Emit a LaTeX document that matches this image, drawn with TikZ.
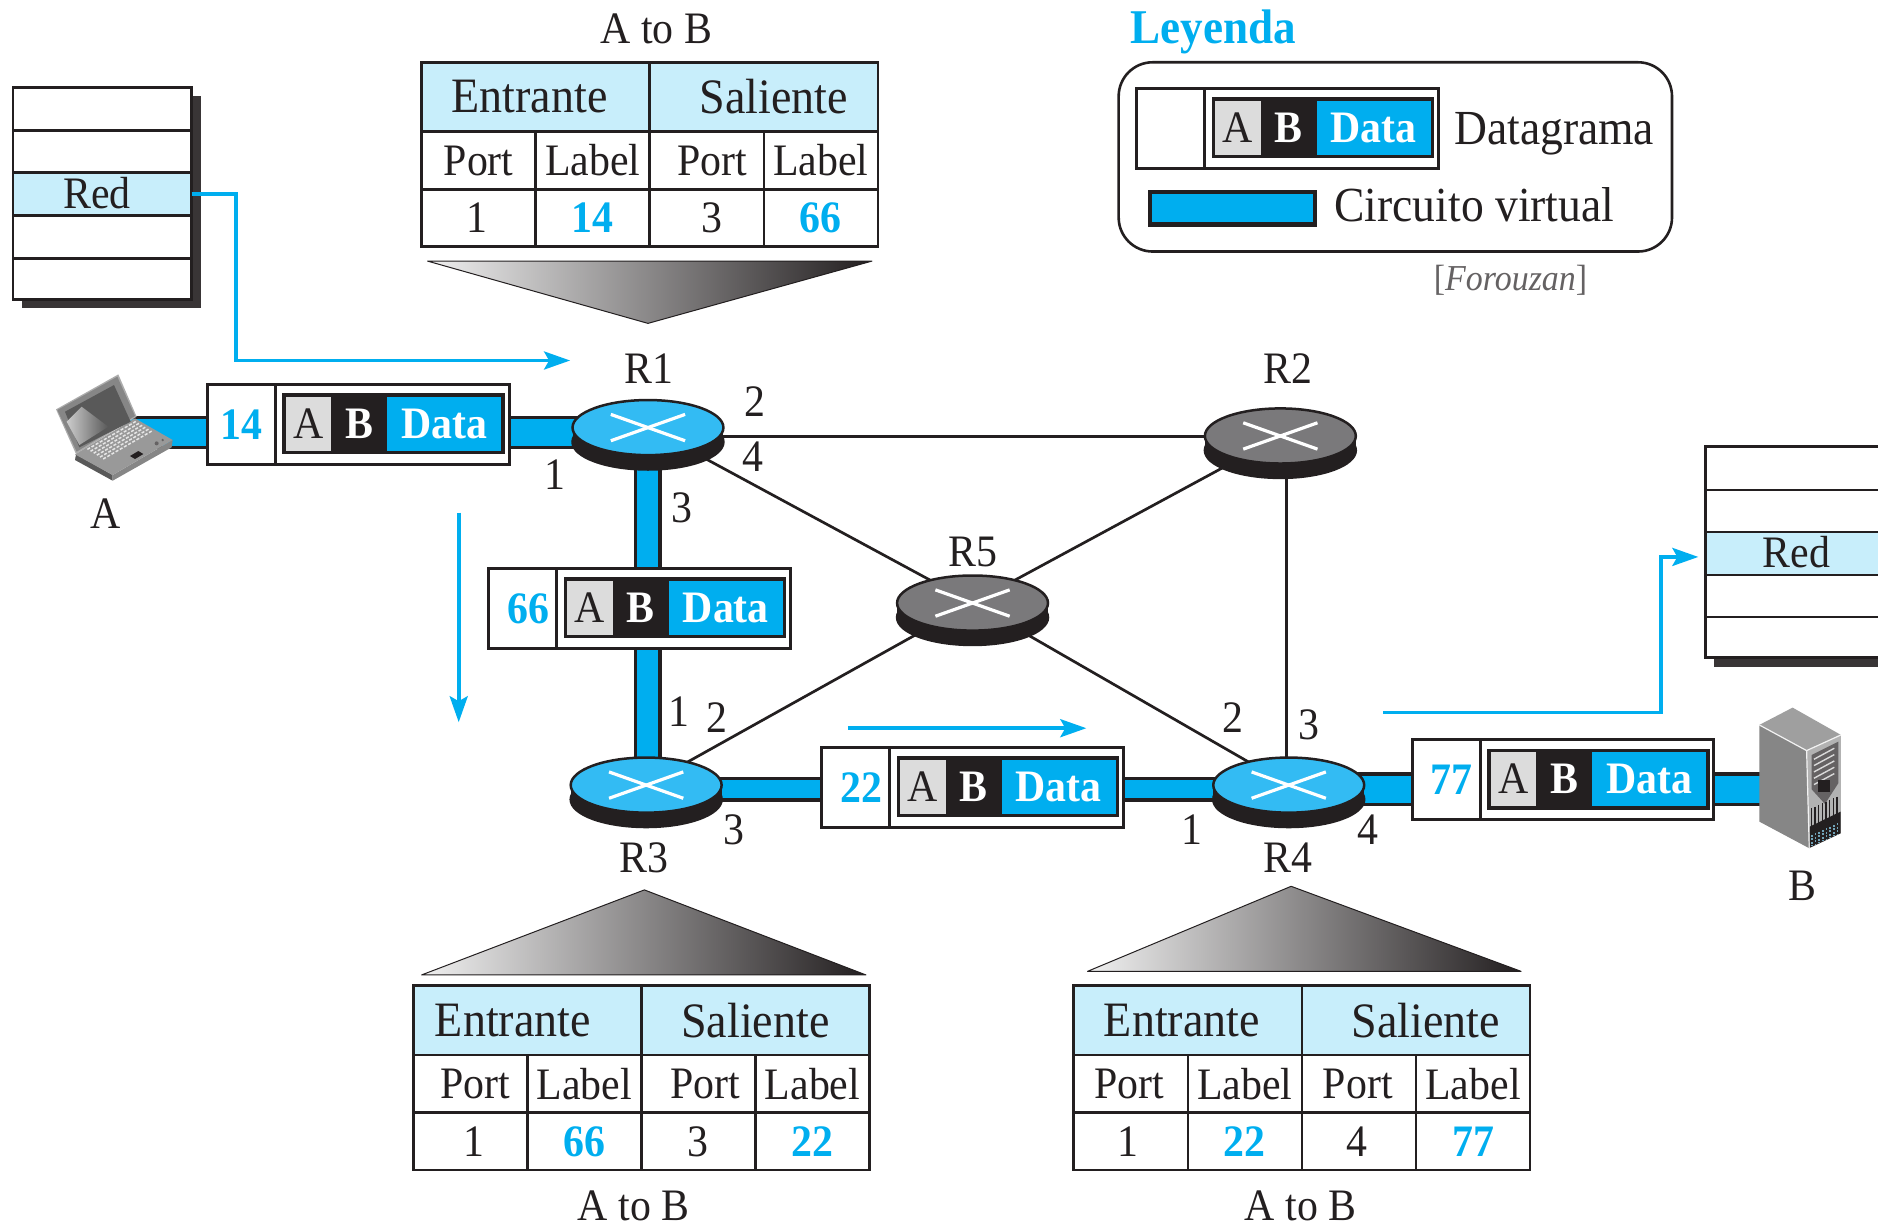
\documentclass[tikz,border=0pt]{standalone}
\usepackage{fontspec}
\setmainfont[FakeStretch=0.93]{Liberation Serif}
\usetikzlibrary{shapes.geometric,arrows.meta,shadings}
\definecolor{cy}{HTML}{00AEEF}
\definecolor{cyr}{HTML}{33BBF3}
\definecolor{grr}{HTML}{7A797B}
\definecolor{ink}{HTML}{231F20}
\definecolor{hd}{HTML}{C8EEFB}
\definecolor{gc}{HTML}{DCDCDC}
\newlength{\uu}\setlength{\uu}{1.1977pt}
\tikzset{
 fs/.style={font=\fontsize{#1}{#1}\selectfont},
 txt/.style={fs=45,inner sep=0pt,text=ink},
 boxc/.style={draw=ink,line width=3pt,inner sep=0pt,outer sep=0pt,anchor=north west,minimum width=#1*\uu},
 tcell/.style={boxc=#1,line width=2.6pt,minimum height=48*\uu},
 band/.style={draw=ink,line width=3.5pt,double=cy,double distance=#1},
 thinl/.style={draw=ink,line width=2.7pt},
 flow/.style={draw=cy,line width=3.6pt,-{Stealth[length=26pt,width=18pt,inset=5pt]}},
 rtop/.style={ellipse,draw=ink,line width=2.5pt,inner sep=0pt,outer sep=0pt,minimum width=126*\uu,minimum height=46*\uu},
 xl/.style={draw=white,line width=3.2pt},
 blue/.style={font=\fontsize{45}{45}\selectfont\bfseries,text=cy},
 tri/.style={draw=ink,line width=1pt,line join=round,left color=gray!12,right color=ink},
}
% router: name, x, y, colour
\newcommand{\router}[4]{%
 \fill[ink] (#2-63,#3) rectangle (#2+63,#3+12);
 \node[rtop,fill=ink] (#1b) at (#2,#3+12) {};
 \node[rtop,fill=#4] (#1) at (#2,#3) {};
 \draw[xl] ([shift={(-31,-11)}]#1.center) -- ([shift={(31,11)}]#1.center);
 \draw[xl] ([shift={(-31,11)}]#1.center) -- ([shift={(31,-11)}]#1.center);
}
% packet: name, left, top, label
\newcommand{\packet}[4]{%
 \begin{scope}[shift={(#2,#3)}]
 \node[boxc=195,minimum height=67*\uu,fill=white] (#1body) at (57,0) {};
 \node[boxc=57,minimum height=67*\uu,fill=white,font=\fontsize{45}{45}\selectfont\bfseries,text=cy] (#1lab) at (0,0) {#4};
 \node[boxc=41,minimum height=48*\uu,fill=gc,line width=3.5pt,fs=45,text=ink] (#1a) at (64,9) {A};
 \node[boxc=44,minimum height=48*\uu,fill=ink,line width=3.5pt,font=\fontsize{45}{45}\selectfont\bfseries,text=white] (#1b) at (105,9) {B};
 \node[boxc=98,minimum height=48*\uu,fill=cy,line width=3.5pt,draw=ink,font=\fontsize{45}{45}\selectfont\bfseries,text=white] (#1d) at (149,9) {Data};
 \end{scope}
}
% table: name,left,top,ent shift,sal shift,v1,v2,v3,v4 ; \oa..\od text offsets (twice the shift)
\newcommand{\rtable}[9]{%
 \begin{scope}[shift={(#2,#3)}]
 \node[boxc=190.5,line width=2.6pt,minimum height=58*\uu,fill=hd] (#1e) at (0,0) {};
 \node[boxc=190.5,line width=2.6pt,minimum height=58*\uu,fill=hd] (#1s) at (190.5,0) {};
 \node[txt,fs=49.5,xshift=#4*\uu] (#1et) at (#1e.center) {Entrante};
 \node[txt,fs=49.5,xshift=#5*\uu] (#1st) at (#1s.center) {Saliente};
 \node[tcell=95.25,txt] (#1p1) at (0,58) {\hspace*{\oa\uu}Port};
 \node[tcell=95.25,txt] (#1l1) at (95.25,58) {Label};
 \node[tcell=95.25,txt] (#1p2) at (190.5,58) {\hspace*{\ob\uu}Port};
 \node[tcell=95.25,txt] (#1l2) at (285.75,58) {Label};
 \node[tcell=95.25,txt] (#1v1) at (0,106) {\hspace*{\oc\uu}#6};
 \node[tcell=95.25,blue] (#1v2) at (95.25,106) {#7};
 \node[tcell=95.25,txt] (#1v3) at (190.5,106) {\hspace*{\od\uu}#8};
 \node[tcell=95.25,blue] (#1v4) at (285.75,106) {#9};
 \end{scope}
}
\begin{document}
\begin{tikzpicture}[x=1.1977pt,y=-1.1977pt]
\useasboundingbox (0,0) rectangle (1568,1022);
% anchors of the bands
\coordinate (LapEnd) at (105,361);
\coordinate (SrvEnd) at (1475,659);
\coordinate (MidBand) at (800,659);
\coordinate (R1c) at (541,357);
\coordinate (R2c) at (1069,364.5);
\coordinate (R3c) at (539.5,655.5);
\coordinate (R4c) at (1076,655.5);
\coordinate (R5c) at (812,503.5);
% thin links
\draw[thinl] (R1c |- R2c) -- (R2c);
\draw[thinl] (R1c) -- (R5c);
\draw[thinl] (R5c) -- (R2c);
\draw[thinl] (R5c) -- (R4c);
\draw[thinl] (R3c) -- (R5c);
\draw[thinl] ([xshift=-2]R4c) -- ([xshift=-2]R4c |- R2c);
% thick links
\draw[band=26.5pt] (LapEnd) -- (LapEnd -| R1c);
\draw[band=21pt] (R1c) -- (R1c |- R3c);
\draw[band=18pt] (R3c |- MidBand) -- (R4c |- MidBand);
\draw[band=27pt] (R4c |- SrvEnd) -- (SrvEnd);
% routers
\router{R1}{541}{357}{cyr}
\router{R2}{1069}{364}{grr}
\router{R5}{812}{503.5}{grr}
\router{R3}{539.5}{655.5}{cyr}
\router{R4}{1076}{655.5}{cyr}
% packets
\packet{Pa}{173}{321}{14}
\packet{Pb}{408}{474.5}{\hspace*{9\uu}66}
\packet{Pc}{686}{624}{\hspace*{9\uu}22}
\packet{Pd}{1179}{617.5}{\hspace*{9\uu}77}
\packet{Pe}{949}{73.5}{}
% tables
\def\oa{0}\def\ob{9}\def\oc{-2}\def\od{8}
\rtable{Ta}{352}{52}{-5}{8.5}{1}{14}{3}{66}
\def\oa{8}\def\ob{12}\def\oc{6}\def\od{0}
\rtable{Tb}{345}{823}{-12}{0}{1}{66}{3}{22}
\def\oa{-2}\def\ob{-2}\def\oc{-4}\def\od{-4}
\rtable{Tc}{896.5}{823}{-5}{8}{1}{22}{4}{77}
\shadedraw[tri] (357,218) -- (728,218) -- (541,270) -- cycle;
\shadedraw[tri] (352,814) -- (723,814) -- (538,743) -- cycle;
\shadedraw[tri] (908,811) -- (1270,811) -- (1078,740) -- cycle;
\node[txt] (ab1) at (548,24) {A to B};
\node[txt] (ab2) at (529,1006.5) {A to B};
\node[txt] (ab3) at (1086,1006.5) {A to B};
% left stack
\fill[ink!90] (18,80) rectangle (168,257);
\foreach \n/\t/\h/\f in {a/73/36/white,b/109/35/white,c/144/36/hd,d/180/36/white,e/216/34/white}
 \node[boxc=149,line width=2.5pt,minimum height=\h*\uu,fill=\f] (LS\n) at (11,\t) {};
\node[txt] (LSt) at (81,161) {Red};
% right stack
\fill[ink!90] (1431,380) rectangle (1570,557);
\foreach \n/\t/\h/\f in {a/373/36/white,b/409/35/white,c/444/36/hd,d/480/35/white,e/515/34/white}
 \node[boxc=147,line width=2.5pt,minimum height=\h*\uu,fill=\f] (RS\n) at (1424,\t) {};
\node[txt] (RSt) at (1500,461) {Red};
% flow arrows
\coordinate (f1) at (476,301);
\coordinate (f2a) at (383,428);
\coordinate (f2b) at (383,603);
\coordinate (f3a) at (708,608);
\coordinate (f3b) at (907,608);
\coordinate (f4a) at (1155,595);
\coordinate (f4b) at (1418,465);
\draw[flow] (LSc.east) -- (197,162) -- (197,301) -- (f1);
\draw[flow] (f2a) -- (f2b);
\draw[flow] (f3a) -- (f3b);
\draw[flow] (f4a) -- (1387,595) -- (1387,465) -- (f4b);
% router names and port numbers
\node[txt] (nR1) at (542,308) {R1};
\node[txt] (nR2) at (1075,308) {R2};
\node[txt] (nR5) at (812,461) {R5};
\node[txt] (nR3) at (538,716) {R3};
\node[txt] (nR4) at (1075,716) {R4};
\node[txt] (nA) at (88,429) {A};
\node[txt] (nB) at (1505,740) {B};
\foreach \i/\xx/\yy/\t in {a/630/335/2,b/628.5/381/4,c/463/396/1,d/569.5/424/3,e/567/594/1,f/598.5/599/2,g/612.5/693/3,h/1029.5/599/2,i/1093/605/3,j/995.5/693/1,k/1142.5/693/4}
 \node[txt] (port\i) at (\xx,\yy) {\t};
% legend
\node[font=\fontsize{48.5}{48.5}\selectfont\bfseries,text=cy,inner sep=0pt,anchor=west] (leg) at (944,27) {Leyenda};
\draw[ink,line width=2.6pt,rounded corners=34pt] (934,52) rectangle (1396,210);
\node[txt,fs=49,anchor=west] (dg) at (1214,112) {Datagrama};
\node[boxc=138,line width=4.5pt,minimum height=27*\uu,fill=cy] (cvbox) at (960,160.5) {};
\node[txt,fs=49,anchor=west] (cv) at (1114,171) {Circuito virtual};
\node[inner sep=0pt,text=ink!70,font=\fontsize{36.5}{36.5}\selectfont\itshape,anchor=west] (fz) at (1197,234) {\textup{[}Forouzan\textup{]}};
% laptop
\begin{scope}[shift={(33.4,300.6)},x=0.3333pt,y=-0.3333pt]
 \fill[gray!70!black] (108,283) -- (105,300) -- (218,362) -- (218,345) -- cycle;
 \fill[gray!95] (218,345) -- (218,362) -- (395,262) -- (398,240) -- cycle;
 \fill[gray!80] (105,283) -- (285,175) -- (398,240) -- (218,345) -- cycle;
 \fill[gray!65] (48,148) -- (235,43) -- (290,170) -- (108,282) -- cycle;
 \fill[gray!95] (52,150) -- (232,50) -- (285,168) -- (110,275) -- cycle;
 \fill[gray!70!black] (75,155) -- (222,75) -- (272,185) -- (118,262) -- cycle;
 \shade[left color=gray!40,right color=gray!70!black] (80,185) -- (125,140) -- (205,200) -- (118,255) -- cycle;
 \foreach \i in {0,...,11}\foreach \j in {0,...,5}
  \draw[gray!20,line width=1.5pt] ({142+12.5*\i+9.5*\j},{268-7.2*\i+5.8*\j}) -- ++(8,-4.6);
 \fill[ink] (270,288) -- (295,273) -- (310,282) -- (285,297) -- cycle;
 \fill[ink!70] (350,250) circle (6);
 \fill[ink!70] (368,240) circle (4);
\end{scope}
% server
\begin{scope}[shift={(1377.6,567.7)},x=0.3333pt,y=-0.3333pt]
 \fill[gray!95] (328,135) -- (470,212) -- (478,505) -- (328,425) -- cycle;
 \fill[gray!75] (328,135) -- (428,83) -- (573,165) -- (470,212) -- cycle;
 \fill[gray!60] (470,212) -- (573,165) -- (573,460) -- (478,505) -- cycle;
 \draw[gray!10,line width=1.2pt] (328,135) -- (470,212) -- (573,165);
 \draw[gray!10,line width=1.2pt] (470,212) -- (478,505);
 \fill[ink!70] (485,225) -- (565,185) -- (565,310) -- (525,372) -- (485,328) -- cycle;
 \foreach \k in {0,...,4}
  \draw[gray!30,line width=1.4pt] (492,{238+19*\k}) -- (553,{205+19*\k});
 \fill[ink] (505,300) rectangle (540,335);
 \foreach \k in {0,...,7}
  \draw[ink,line width=1.5pt] ({484+11*\k},{385-5*\k}) -- ({484+11*\k},{440-5*\k});
 \fill[ink] (480,440) -- (572,395) -- (572,460) -- (480,503) -- cycle;
 \foreach \k in {0,...,7}
  \draw[cyan!40!gray,line width=1.6pt,dash pattern=on 2pt off 1.5pt] ({486+11*\k},{465-5*\k}) -- ({486+11*\k},{498-5*\k});
\end{scope}
\end{tikzpicture}
\end{document}
